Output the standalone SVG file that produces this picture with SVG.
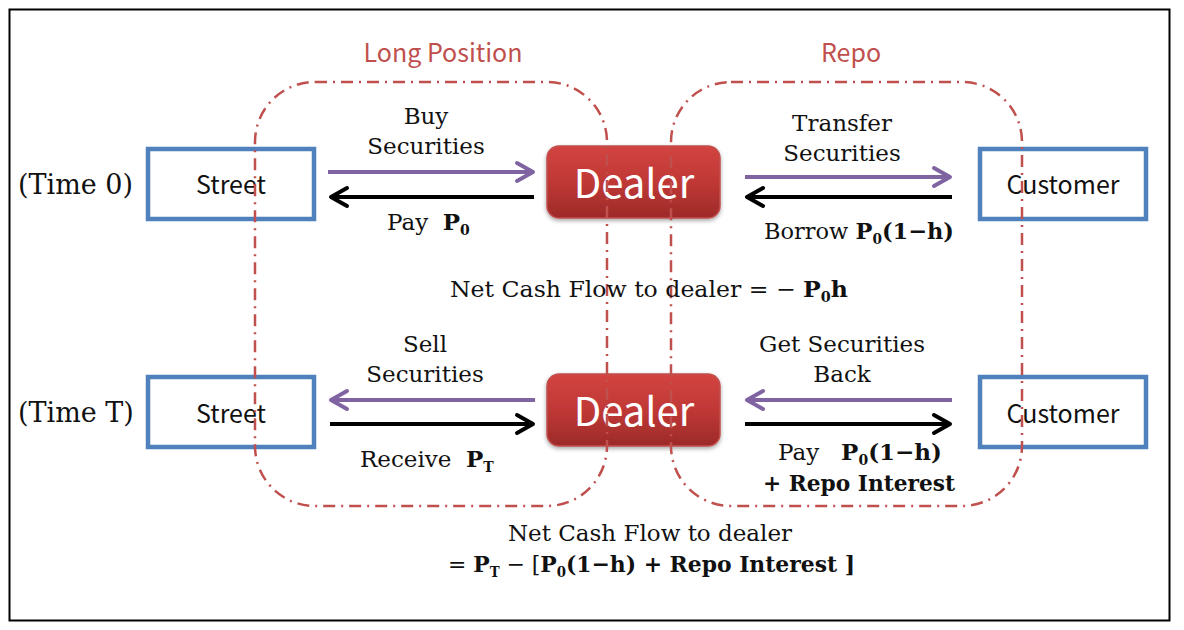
<svg xmlns="http://www.w3.org/2000/svg" width="1184" height="630" viewBox="0 0 1184 630">
<style>
text{white-space:pre}
.serif{font-family:"DejaVu Serif","Liberation Serif",serif;font-size:23px;fill:#111}
.time{font-size:27px}
.b{font-weight:bold}
.sans{font-family:"Noto Sans CJK KR","Open Sans",sans-serif;font-size:25px;fill:#111}
.title{font-family:"Noto Sans CJK KR","Open Sans",sans-serif;font-size:25px;fill:#C0504D}
.box{fill:#fff;stroke:#4F81BD;stroke-width:4.5}
.zone{fill:none;stroke:#C0504D;stroke-width:2.5;stroke-dasharray:12,6,2,6}
.dealer{fill:url(#dg);stroke:#C0504D;stroke-width:1.5}
.dtext{font-family:"Noto Sans CJK KR","Open Sans",sans-serif;font-size:40px;fill:#fff}
.pa{stroke:#8064A2;stroke-width:4;fill:none}
.ba{stroke:#000;stroke-width:4;fill:none}
</style>
<defs>
<linearGradient id="dg" x1="0" y1="0" x2="0" y2="1">
<stop offset="0" stop-color="#D24440"/>
<stop offset="0.5" stop-color="#C03836"/>
<stop offset="1" stop-color="#9C2A28"/>
</linearGradient>
<filter id="sh" x="-10%" y="-10%" width="120%" height="130%">
<feDropShadow dx="0" dy="2" stdDeviation="2" flood-color="#000" flood-opacity="0.35"/>
</filter>
<marker id="mp" viewBox="0 0 12 12" refX="10" refY="6" markerWidth="6" markerHeight="6" orient="auto" markerUnits="strokeWidth">
<polyline points="2,1.5 10,6 2,10.5" fill="none" stroke="#8064A2" stroke-width="2" stroke-linecap="round" stroke-linejoin="round"/>
</marker>
<marker id="mb" viewBox="0 0 12 12" refX="10" refY="6" markerWidth="6" markerHeight="6" orient="auto" markerUnits="strokeWidth">
<polyline points="2,1.5 10,6 2,10.5" fill="none" stroke="#000" stroke-width="2" stroke-linecap="round" stroke-linejoin="round"/>
</marker>
</defs>
<rect x="0" y="0" width="1184" height="630" fill="#fff"/>
<rect id="frame" x="9.5" y="9.5" width="1160" height="611" fill="none" stroke="#000" stroke-width="2"/>

<g id="time-labels">
<text class="serif time" x="18" y="194">(Time 0)</text>
<text class="serif time" x="18" y="422">(Time T)</text>
</g>

<g id="street0"><rect class="box" x="148" y="149" width="166" height="70"/><text class="sans" x="231" y="194" text-anchor="middle">Street</text></g>
<g id="street1"><rect class="box" x="148" y="377" width="166" height="70"/><text class="sans" x="231" y="423" text-anchor="middle">Street</text></g>
<g id="customer0"><rect class="box" x="980" y="149" width="166" height="70"/><text class="sans" x="1063" y="194" text-anchor="middle">Customer</text></g>
<g id="customer1"><rect class="box" x="980" y="377" width="166" height="70"/><text class="sans" x="1063" y="423" text-anchor="middle">Customer</text></g>
<g id="dealer0"><rect class="dealer" x="547" y="146" width="173" height="72" rx="12" filter="url(#sh)"/><text class="dtext" x="634" y="198" text-anchor="middle">Dealer</text></g>
<g id="dealer1"><rect class="dealer" x="547" y="374" width="173" height="72" rx="12" filter="url(#sh)"/><text class="dtext" x="634" y="426" text-anchor="middle">Dealer</text></g>

<g id="zones">
<rect class="zone" x="255" y="82" width="352" height="424" rx="60" ry="60"/>
<rect class="zone" x="671" y="82" width="351" height="424" rx="60" ry="60"/>
<text class="title" x="443" y="62" text-anchor="middle">Long Position</text>
<text class="title" x="851" y="62" text-anchor="middle">Repo</text>
</g>

<g id="connectors">
<line class="pa" x1="328" y1="172" x2="533" y2="172" marker-end="url(#mp)"/>
<line class="ba" x1="534" y1="197" x2="331" y2="197" marker-end="url(#mb)"/>
<line class="pa" x1="745" y1="177" x2="950" y2="177" marker-end="url(#mp)"/>
<line class="ba" x1="952" y1="197" x2="747" y2="197" marker-end="url(#mb)"/>
<line class="pa" x1="535" y1="400" x2="331" y2="400" marker-end="url(#mp)"/>
<line class="ba" x1="330" y1="424" x2="533" y2="424" marker-end="url(#mb)"/>
<line class="pa" x1="952" y1="400" x2="747" y2="400" marker-end="url(#mp)"/>
<line class="ba" x1="745" y1="424" x2="950" y2="424" marker-end="url(#mb)"/>
</g>

<g id="labels">
<text class="serif" x="426" y="124" text-anchor="middle">Buy</text>
<text class="serif" x="426" y="154" text-anchor="middle">Securities</text>
<text class="serif" x="387" y="230">Pay  <tspan class="b">P<tspan font-size="14" dy="5">0</tspan></tspan></text>
<text class="serif" x="842" y="131" text-anchor="middle">Transfer</text>
<text class="serif" x="842" y="161" text-anchor="middle">Securities</text>
<text class="serif" x="764" y="239" textLength="190" lengthAdjust="spacingAndGlyphs">Borrow <tspan class="b">P<tspan font-size="14" dy="5">0</tspan><tspan dy="-5">(1−h)</tspan></tspan></text>
<text class="serif" x="450" y="297" textLength="398" lengthAdjust="spacingAndGlyphs">Net Cash Flow to dealer = − <tspan class="b">P<tspan font-size="14" dy="5">0</tspan><tspan dy="-5">h</tspan></tspan></text>
<text class="serif" x="425" y="352" text-anchor="middle">Sell</text>
<text class="serif" x="425" y="382" text-anchor="middle">Securities</text>
<text class="serif" x="360" y="467">Receive  <tspan class="b">P<tspan font-size="14" dy="5">T</tspan></tspan></text>
<text class="serif" x="842" y="352" text-anchor="middle">Get Securities</text>
<text class="serif" x="842" y="382" text-anchor="middle">Back</text>
<text class="serif" x="778" y="460">Pay   <tspan class="b">P<tspan font-size="14" dy="5">0</tspan><tspan dy="-5">(1−h)</tspan></tspan></text>
<text class="serif b" x="763" y="491" textLength="192" lengthAdjust="spacingAndGlyphs">+ Repo Interest</text>
<text class="serif" x="650" y="541" text-anchor="middle">Net Cash Flow to dealer</text>
<text class="serif" x="448" y="572" textLength="407" lengthAdjust="spacingAndGlyphs">= <tspan class="b">P<tspan font-size="14" dy="5">T</tspan></tspan><tspan dy="-5"> − [</tspan><tspan class="b">P<tspan font-size="14" dy="5">0</tspan><tspan dy="-5">(1−h) + Repo Interest ]</tspan></tspan></text>
</g>
</svg>
